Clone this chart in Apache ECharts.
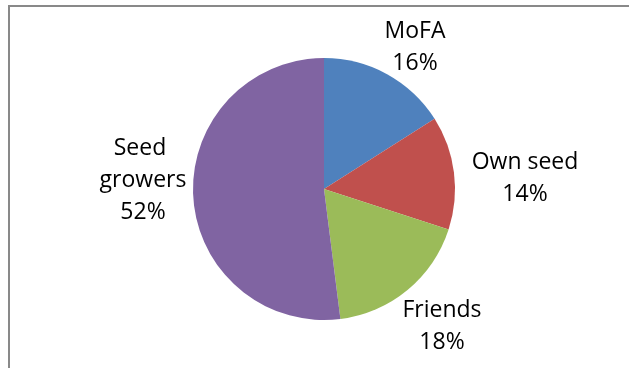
<!DOCTYPE html>
<html>
<head>
<meta charset="utf-8">
<script src="https://cdn.jsdelivr.net/npm/echarts@6/dist/echarts.min.js"></script>
<style>
html,body{margin:0;padding:0;background:#fff;}
#c{width:629px;height:368px;}
</style>
</head>
<body>
<div id="c"></div>
<script>
// Data
const categories = ['MoFA', 'Own seed', 'Friends', 'Seed growers'];
const shares = [16, 14, 18, 52];
const colors = ['#4F81BD', '#C0504D', '#9BBB59', '#8064A2'];

// Layout constants (label offsets from pie centre, px)
const pieCenter = [324, 189];
const pieRadius = 131;
const labelOffsets = [[91, -142], [201, -11], [118, 137], [-181, -9]];

const chart = echarts.init(document.getElementById('c'), null, {renderer: 'canvas'});
chart.setOption({
  animation: false,
  backgroundColor: '#ffffff',
  graphic: [{
    type: 'rect',
    shape: {x: 9, y: 6, width: 700, height: 500},
    style: {fill: 'none', stroke: '#898989', lineWidth: 2},
    silent: true
  }],
  series: [{
    type: 'pie',
    center: pieCenter,
    radius: pieRadius,
    startAngle: 90,
    clockwise: true,
    avoidLabelOverlap: false,
    itemStyle: {borderWidth: 0},
    label: {
      show: true,
      position: 'outside',
      fontFamily: 'Open Sans',
      fontSize: 23,
      lineHeight: 32,
      color: '#000',
      width: 120,
      overflow: 'break',
      formatter: p => p.name + '\n' + p.value + '%'
    },
    labelLine: {show: false},
    labelLayout: function (params) {
      const o = labelOffsets[params.dataIndex];
      return {x: pieCenter[0] + o[0], y: pieCenter[1] + o[1], align: 'center', verticalAlign: 'middle'};
    },
    data: categories.map((n, i) => ({name: n, value: shares[i], itemStyle: {color: colors[i]}}))
  }]
});
</script>
</body>
</html>
